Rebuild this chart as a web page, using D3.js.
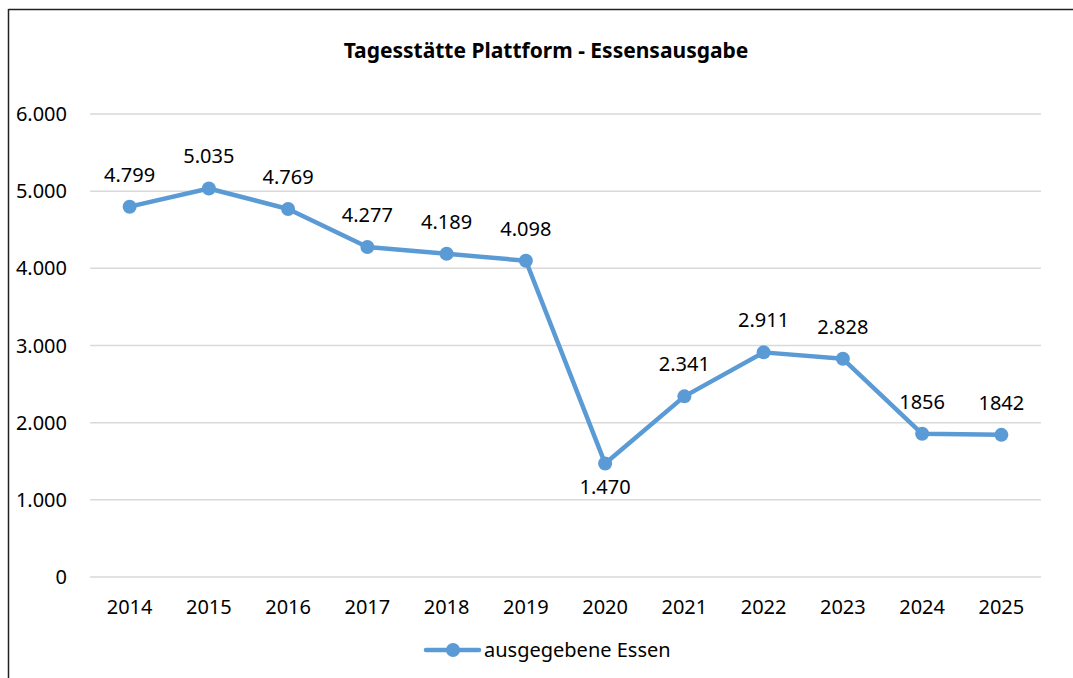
<!DOCTYPE html>
<meta charset="utf-8">
<style>
body{ margin:0; background:#fff; }
text{ font-family: "Noto Sans", "Open Sans", sans-serif; fill:#000; }
</style>
<body>
<div id="chart"></div>
<script src="https://d3js.org/d3.v7.min.js"></script>
<script>
// Tagesstätte Plattform - Essensausgabe
var years = ["2014","2015","2016","2017","2018","2019","2020","2021","2022","2023","2024","2025"];
var meals = [4799, 5035, 4769, 4277, 4189, 4098, 1470, 2341, 2911, 2828, 1856, 1842];
var labels = ["4.799","5.035","4.769","4.277","4.189","4.098","1.470","2.341","2.911","2.828","1856","1842"];
var yTicks = [0, 1000, 2000, 3000, 4000, 5000, 6000];
var tickLabels = ["0","1.000","2.000","3.000","4.000","5.000","6.000"];

var W = 1073, H = 678;
var plot = {left: 90, right: 1041, top: 114, bottom: 577};
var blue = "#5b9bd5";
var fs = "20px";

var svg = d3.select("#chart").append("svg").attr("width", W).attr("height", H);
svg.append("rect").attr("width", W).attr("height", H).attr("fill", "#fff");

// outer frame (top and left edges visible)
svg.append("line").attr("x1", 8.5).attr("x2", W).attr("y1", 9.5).attr("y2", 9.5)
	.attr("stroke", "#222").attr("stroke-width", 1.5);
svg.append("line").attr("x1", 8.5).attr("x2", 8.5).attr("y1", 9).attr("y2", H)
	.attr("stroke", "#222").attr("stroke-width", 1.5);

svg.append("text").attr("x", 546).attr("y", 58).attr("text-anchor", "middle")
	.style("font-size", "21px").style("font-weight", "bold")
	.text("Tagesstätte Plattform - Essensausgabe");

var x = d3.scaleBand().domain(years).range([plot.left, plot.right]);
var y = d3.scaleLinear().domain([0, 6000]).range([plot.bottom, plot.top]);
var cx = function(d){ return x(d) + x.bandwidth()/2; };

svg.selectAll(".grid").data(yTicks).enter().append("line").attr("class", "grid")
	.attr("x1", plot.left).attr("x2", plot.right)
	.attr("y1", function(d){ return y(d); }).attr("y2", function(d){ return y(d); })
	.attr("stroke", "#d9d9d9").attr("stroke-width", 1.5);

svg.selectAll(".ylab").data(yTicks).enter().append("text").attr("class", "ylab")
	.attr("x", 67).attr("y", function(d){ return y(d) + 7; })
	.attr("text-anchor", "end").style("font-size", fs)
	.text(function(d, i){ return tickLabels[i]; });

svg.selectAll(".xlab").data(years).enter().append("text").attr("class", "xlab")
	.attr("x", cx).attr("y", plot.bottom + 37)
	.attr("text-anchor", "middle").style("font-size", fs)
	.text(function(d){ return d; });

var pts = years.map(function(d, i){ return {year: d, v: meals[i], lab: labels[i]}; });

svg.append("path").datum(pts)
	.attr("d", d3.line().x(function(d){ return cx(d.year); }).y(function(d){ return y(d.v); }))
	.attr("fill", "none").attr("stroke", blue).attr("stroke-width", 4.5)
	.attr("stroke-linejoin", "round").attr("stroke-linecap", "round");

svg.selectAll(".dot").data(pts).enter().append("circle").attr("class", "dot")
	.attr("cx", function(d){ return cx(d.year); }).attr("cy", function(d){ return y(d.v); })
	.attr("r", 7).attr("fill", blue);

svg.selectAll(".vlab").data(pts).enter().append("text").attr("class", "vlab")
	.attr("x", function(d){ return cx(d.year); })
	.attr("y", function(d){ return d.year == "2020" ? y(d.v) + 30 : y(d.v) - 25; })
	.attr("text-anchor", "middle").style("font-size", fs)
	.text(function(d){ return d.lab; });

// legend
var lg = svg.append("g").attr("transform", "translate(426,650)");
lg.append("line").attr("x1", 0).attr("x2", 53).attr("y1", 0).attr("y2", 0)
	.attr("stroke", blue).attr("stroke-width", 4.5).attr("stroke-linecap", "round");
lg.append("circle").attr("cx", 27).attr("cy", 0).attr("r", 7).attr("fill", blue);
lg.append("text").attr("x", 58).attr("y", 7).style("font-size", fs).text("ausgegebene Essen");
</script>
</body>
